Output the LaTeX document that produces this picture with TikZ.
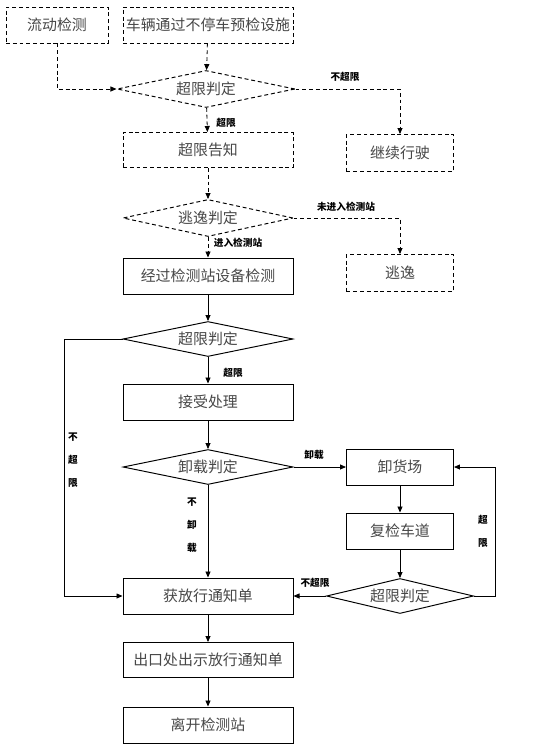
\documentclass[tikz,border=0pt]{standalone}
\usepackage{fontspec}
\newfontfamily\cjk{Noto Sans CJK SC}
\usetikzlibrary{shapes.geometric,arrows.meta}

\tikzset{
  box/.style={draw, rectangle, line width=1.1pt, minimum width=6.8cm, minimum height=1.44cm,
    inner sep=0pt, text=black!72, font=\cjk\fontsize{17}{20}\selectfont},
  sbox/.style={box, minimum width=4.28cm},
  judge/.style={draw, diamond, aspect=4.8, line width=1.1pt, minimum width=6.8cm, minimum height=1.44cm,
    inner sep=0pt, text=black!72, font=\cjk\fontsize{17}{20}\selectfont},
  dashy/.style={dash pattern=on 4.5pt off 3.2pt},
  lnk/.style={line width=0.9pt, -{Triangle[length=2.4mm,width=2mm]}},
  tag/.style={inner sep=0pt, font=\cjk\bfseries\fontsize{11}{26}\selectfont, align=center}
}

\begin{document}
\begin{tikzpicture}[x=0.04cm,y=-0.04cm]
\useasboundingbox (0,0) rectangle (550,754);

% pre-check part (dashed)
\node[box, dashy, minimum width=4.08cm] (mob) at (57,25) {流动检测};
\node[box, dashy] (pre) at (208,25) {车辆通过不停车预检设施};
\node[judge, dashy, minimum width=7.12cm, minimum height=1.48cm] (jd1) at (206,89) {超限判定};
\node[box, dashy, minimum height=1.4cm] (notice) at (208,150) {超限告知};
\node[sbox, dashy, minimum height=1.48cm] (cont) at (400,153) {继续行驶};
\node[judge, dashy, minimum height=1.48cm] (esc) at (208,218) {逃逸判定};
\node[sbox, dashy, minimum height=1.48cm] (flee) at (400,273) {逃逸};

% station part
\node[box] (stat) at (208,276) {经过检测站设备检测};
\node[judge, minimum height=1.4cm] (jd3) at (208,339) {超限判定};
\node[box] (accept) at (208,402) {接受处理};
\node[judge, minimum height=1.4cm] (unl) at (208,467) {卸载判定};
\node[sbox] (yard) at (400,467) {卸货场};
\node[sbox] (recheck) at (400,531) {复检车道};
\node[judge, aspect=4.2, minimum width=5.88cm, minimum height=1.4cm] (jd5) at (400,596) {超限判定};
\node[box] (pass) at (208,596) {获放行通知单};
\node[box, minimum height=1.4cm] (exit) at (208,660) {出口处出示放行通知单};
\node[box] (leave) at (208,725) {离开检测站};

\coordinate (lc) at (64,339);
\coordinate (rc) at (495,596);

% dashed connectors
\draw[lnk, dashy] (mob) |- (jd1);
\draw[lnk, dashy] (pre) -- (jd1);
\draw[lnk, dashy] (jd1) -| (cont);
\draw[lnk, dashy] (jd1) -- (notice);
\draw[lnk, dashy] (notice) -- (esc);
\draw[lnk, dashy] (esc) -| (flee);
\draw[lnk, dashy] (esc) -- (stat);

% solid connectors
\draw[lnk] (stat) -- (jd3);
\draw[lnk] (jd3.west) -- (lc) |- (pass);
\draw[lnk] (jd3) -- (accept);
\draw[lnk] (accept) -- (unl);
\draw[lnk] (unl) -- (yard);
\draw[lnk] (unl) -- (pass);
\draw[lnk] (yard) -- (recheck);
\draw[lnk] (recheck) -- (jd5);
\draw[lnk] (jd5) -- (pass);
\draw[lnk] (jd5.east) -- (rc) |- (yard);
\draw[lnk] (pass) -- (exit);
\draw[lnk] (exit) -- (leave);

% labels
\node[tag] (t1) at (345,77) {不超限};
\node[tag] (t2) at (226,123) {超限};
\node[tag] (t3) at (346,207) {未进入检测站};
\node[tag] (t4) at (238,243) {进入检测站};
\node[tag] (t5) at (73,460) {不\\超\\限};
\node[tag] (t6) at (233,373) {超限};
\node[tag] (t7) at (314,455) {卸载};
\node[tag] (t8) at (192,525) {不\\卸\\载};
\node[tag] (t9) at (315,583) {不超限};
\node[tag] (t10) at (483,531) {超\\限};

\end{tikzpicture}
\end{document}
